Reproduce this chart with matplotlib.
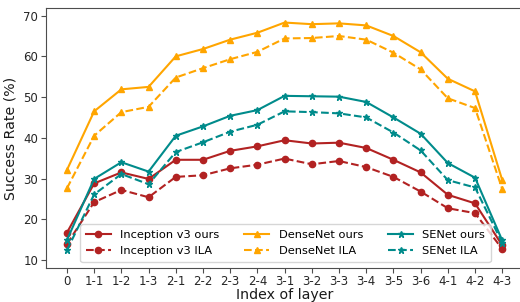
import matplotlib
matplotlib.use("Agg")
import matplotlib.pyplot as plt

layers = ["0", "1-1", "1-2", "1-3", "2-1", "2-2", "2-3", "2-4", "3-1", "3-2",
          "3-3", "3-4", "3-5", "3-6", "4-1", "4-2", "4-3"]

inc_ours = [16.7, 28.8, 31.5, 29.9, 34.6, 34.6, 36.8, 37.9, 39.4, 38.6, 38.8, 37.5, 34.6, 31.5, 26.0, 23.9, 13.6]
inc_ila = [13.9, 24.2, 27.2, 25.4, 30.4, 30.8, 32.5, 33.4, 34.9, 33.5, 34.3, 32.8, 30.4, 26.8, 22.7, 21.5, 12.7]
dense_ours = [32.1, 46.5, 51.9, 52.5, 60.0, 61.8, 64.1, 65.8, 68.3, 67.9, 68.1, 67.6, 65.0, 61.0, 54.5, 51.4, 29.6]
dense_ila = [27.6, 40.5, 46.3, 47.6, 54.8, 57.1, 59.3, 61.1, 64.4, 64.5, 65.0, 64.1, 60.9, 56.8, 49.7, 47.3, 27.4]
se_ours = [14.9, 29.9, 34.0, 31.7, 40.5, 42.8, 45.4, 46.8, 50.3, 50.2, 50.1, 48.8, 45.0, 41.0, 33.8, 30.2, 14.8]
se_ila = [12.4, 26.1, 31.1, 28.6, 36.5, 38.9, 41.5, 43.2, 46.5, 46.3, 46.0, 45.0, 41.3, 36.9, 29.6, 27.8, 14.2]

RED = "#b22222"
ORANGE = "#ffa500"
TEAL = "#008b8b"

fig = plt.figure(figsize=(5.2, 3.02), dpi=100)
ax = fig.add_axes([46 / 520, (302 - 267.7) / 302, (524 - 46) / 520, (267.7 - 8.3) / 302])

x = list(range(len(layers)))
ax.plot(x, inc_ours, color=RED, marker="o", ms=4.5, lw=1.5, label="Inception v3 ours")
ax.plot(x, inc_ila, color=RED, marker="o", ms=4.5, lw=1.5, ls="--", label="Inception v3 ILA")
ax.plot(x, dense_ours, color=ORANGE, marker="^", ms=5, lw=1.5, label="DenseNet ours")
ax.plot(x, dense_ila, color=ORANGE, marker="^", ms=5, lw=1.5, ls="--", label="DenseNet ILA")
ax.plot(x, se_ours, color=TEAL, marker="*", ms=5, lw=1.5, label="SENet ours")
ax.plot(x, se_ila, color=TEAL, marker="*", ms=5, lw=1.5, ls="--", label="SENet ILA")

ax.set_xticks(x)
ax.set_xticklabels(layers)
ax.set_xlim(-0.77, 16.8)
ax.set_ylim(8.1, 71.8)
ax.set_yticks([10, 20, 30, 40, 50, 60, 70])
ax.tick_params(labelsize=8.5, colors="0.3", labelcolor="0.15", length=3.5, pad=2.0)
for s in ax.spines.values():
    s.set_color("0.3")
ax.set_xlabel("Index of layer", fontsize=10.2, color="0.1", labelpad=0)
ax.set_ylabel("Success Rate (%)", fontsize=10.2, color="0.1", labelpad=4)

ax.legend(ncol=3, loc="lower center", bbox_to_anchor=(0.501, 0.0), fontsize=8.2,
          handlelength=2.2, columnspacing=2.2, borderpad=0.5, labelspacing=0.55,
          framealpha=0.8)

fig.savefig("out.png", dpi=100)
